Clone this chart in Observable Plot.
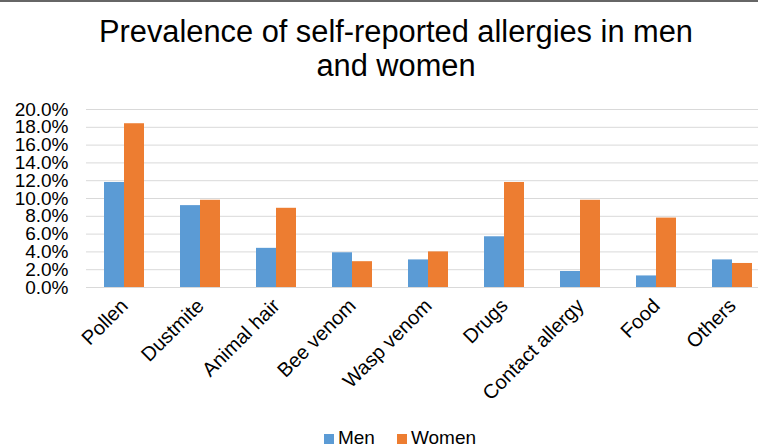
<!DOCTYPE html>
<html><head><meta charset="utf-8">
<script src="https://cdn.jsdelivr.net/npm/d3@7"></script>
<script src="https://cdn.jsdelivr.net/npm/@observablehq/plot@0.6"></script>
<style>
html,body{margin:0;padding:0;overflow:hidden;background:#fff;}
body{width:758px;height:448px;border-top:2px solid #666;box-sizing:border-box;font-family:"Liberation Sans",Arial,sans-serif;color:#000;}
#title{width:792px;height:88px;box-sizing:border-box;padding-top:13px;text-align:center;font-size:30.8px;line-height:34px;}
#chart{width:772px;height:330px;}
#chart svg{display:block;}
#legend{width:800px;text-align:center;font-size:19px;line-height:20px;padding-top:8px;white-space:nowrap;}
.sw{display:inline-block;width:10px;height:10px;margin-right:4px;vertical-align:0px;}
.item{display:inline-block;}
.item + .item{margin-left:22px;}
</style></head>
<body>
<div id="title">Prevalence of self-reported allergies in men<br>and women</div>
<div id="chart"></div>
<div id="legend"></div>
<script>
const categories = ["Pollen", "Dustmite", "Animal hair", "Bee venom", "Wasp venom", "Drugs", "Contact allergy", "Food", "Others"];
const men = [11.8, 9.2, 4.4, 3.9, 3.1, 5.7, 1.8, 1.3, 3.1];
const women = [18.4, 9.8, 8.9, 2.9, 4.0, 11.8, 9.8, 7.8, 2.7];
const seriesNames = ["Men", "Women"];
const seriesColors = ["#5B9BD5", "#ED7D31"];
const yTicks = [0, 2, 4, 6, 8, 10, 12, 14, 16, 18, 20];

const rows = categories.map((c, i) => ({category: c, men: men[i], women: women[i]}));

const chart = Plot.plot({
  width: 772, height: 330,
  marginTop: 19, marginBottom: 133, marginLeft: 86, marginRight: 2,
  style: {fontFamily: '"Liberation Sans", Arial, sans-serif', fontSize: "19px", color: "#000", background: "transparent", overflow: "visible"},
  x: {domain: categories, paddingInner: 0.474, paddingOuter: 0.237},
  y: {domain: [0, 20]},
  marks: [
    Plot.ruleY(yTicks, {stroke: "#D9D9D9", strokeWidth: 1}),
    Plot.barY(rows, {x: "category", y: "men", fill: seriesColors[0], insetRight: 20}),
    Plot.barY(rows, {x: "category", y: "women", fill: seriesColors[1], insetLeft: 20}),
    Plot.axisY({ticks: yTicks, tickFormat: d => d.toFixed(1) + "%", label: null, tickSize: 0, tickPadding: 18, fontSize: 19}),
    Plot.axisX({label: null, tickSize: 0, tickRotate: -45, tickPadding: 15, fontSize: 20})
  ]
});
document.getElementById("chart").appendChild(chart);

const legend = document.getElementById("legend");
seriesNames.forEach((name, i) => {
  const item = document.createElement("span");
  item.className = "item";
  const sw = document.createElement("span");
  sw.className = "sw";
  sw.style.background = seriesColors[i];
  item.appendChild(sw);
  item.appendChild(document.createTextNode(name));
  legend.appendChild(item);
});
</script>
</body></html>
